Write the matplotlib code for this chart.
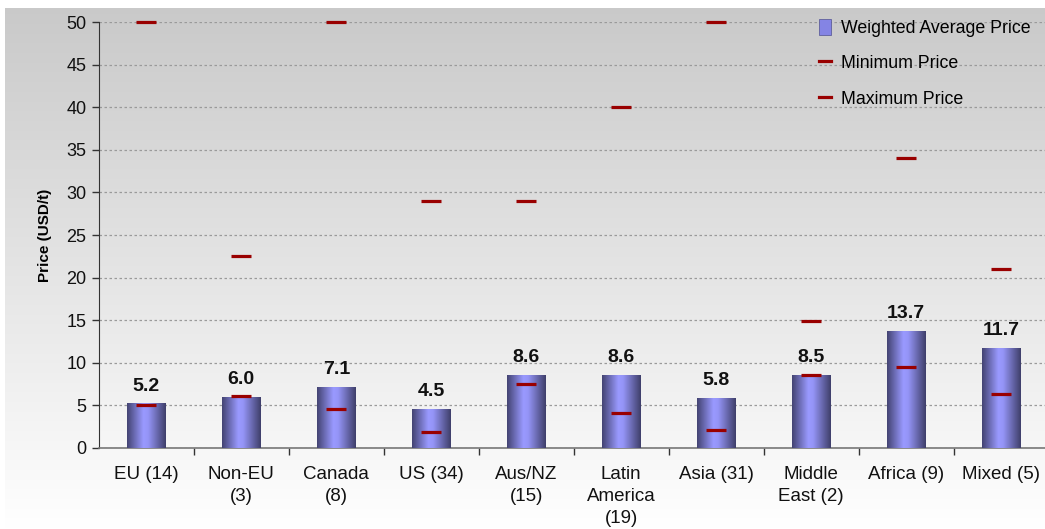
import numpy as np
import matplotlib
matplotlib.use("Agg")
import matplotlib.pyplot as plt
from matplotlib.colors import LinearSegmentedColormap
from matplotlib.patches import Patch
from matplotlib.lines import Line2D

plt.rcParams['font.family'] = ['Liberation Sans', 'DejaVu Sans']

regions = ["EU (14)", "Non-EU\n(3)", "Canada\n(8)", "US (34)", "Aus/NZ\n(15)",
           "Latin\nAmerica\n(19)", "Asia (31)", "Middle\nEast (2)", "Africa (9)", "Mixed (5)"]
weighted_avg = [5.2, 6.0, 7.1, 4.5, 8.6, 8.6, 5.8, 8.5, 13.7, 11.7]
min_price = [5.0, 6.1, 4.5, 1.9, 7.5, 4.1, 2.1, 8.6, 9.5, 6.3]
max_price = [50.0, 22.5, 50.0, 29.0, 29.0, 40.0, 50.0, 14.9, 34.0, 21.0]

W, H = 1045, 529
fig = plt.figure(figsize=(W / 100, H / 100), dpi=100)

# soft grey-to-white backdrop
bg = fig.add_axes([5 / W, 0, 1 - 5 / W, 1 - 8 / H], zorder=-10)
grad = np.linspace(0.79, 1.0, 256).reshape(-1, 1)
bg.imshow(np.dstack([grad, grad, grad]), aspect='auto', extent=[0, 1, 0, 1],
          origin='upper', interpolation='bilinear')
bg.axis('off')

ax = fig.add_axes([98.8 / W, 1 - 447.7 / H, 950 / W, (447.7 - 22.3) / H])
ax.patch.set_alpha(0)

x = np.arange(len(regions))
bars = ax.bar(x, weighted_avg, width=0.41, color='none', edgecolor='none', zorder=3)

# horizontal shading across each bar
bar_cmap = LinearSegmentedColormap.from_list(
    "barshade", [(0.0, "#434372"), (0.42, "#9a9aff"), (0.55, "#9494f6"), (1.0, "#3f3f6a")])
shade = np.linspace(0, 1, 128).reshape(1, -1)
for b in bars:
    x0, w, h = b.get_x(), b.get_width(), b.get_height()
    im = ax.imshow(shade, cmap=bar_cmap, aspect='auto', extent=[x0, x0 + w, 0, h],
                   interpolation='bilinear', zorder=3)
    im.set_clip_path(b)

for xi, v in zip(x, weighted_avg):
    ax.text(xi, v + 1.05, f"{v:.1f}", ha='center', va='bottom', fontsize=14,
            fontweight='bold', color='#111111', zorder=5)

dash = dict(marker='_', markersize=14.5, markeredgewidth=2.3, color='#990000',
            linestyle='none', zorder=4, clip_on=False)
ax.plot(x, min_price, **dash)
ax.plot(x, max_price, **dash)

ax.set_xlim(-0.5, len(regions) - 0.5)
ax.set_ylim(0, 50)
ax.set_yticks(np.arange(0, 51, 5))
ax.yaxis.grid(True, linestyle=(0, (2, 2)), color='#9a9a9a', linewidth=0.9, zorder=0)
ax.set_axisbelow(True)

ax.set_xticks(x)
ax.set_xticklabels(regions, fontsize=13.5, color='#111111', linespacing=1.35)
ax.set_xticks(np.arange(0.5, len(regions) - 0.5, 1), minor=True)
ax.tick_params(axis='x', which='major', length=0, pad=13.5)
ax.tick_params(axis='x', which='minor', length=5, width=1, color='#333333')
ax.tick_params(axis='y', length=5, width=1, color='#333333', labelsize=13,
               labelcolor='#111111', pad=4)

for s in ['top', 'right']:
    ax.spines[s].set_visible(False)
ax.spines['left'].set_color('#333333')
ax.spines['bottom'].set_color('#777777')
ax.spines['bottom'].set_linewidth(1.2)

ax.set_ylabel("Price (USD/t)", fontsize=11, fontweight='bold', labelpad=10)

handles = [Patch(facecolor='#8484e4', edgecolor='#505090', linewidth=0.5),
           Line2D([], [], color='#990000', linewidth=2.3),
           Line2D([], [], color='#990000', linewidth=2.3)]
labels = ["Weighted Average Price", "Minimum Price", "Maximum Price"]
fig.legend(handles, labels, loc='upper left', bbox_to_anchor=(812 / W, 1 - 12 / H),
           frameon=False, fontsize=12.75, handlelength=0.7, handleheight=1.0,
           handletextpad=0.55, labelspacing=0.98, borderaxespad=0)

fig.savefig("out.png", dpi=100)
